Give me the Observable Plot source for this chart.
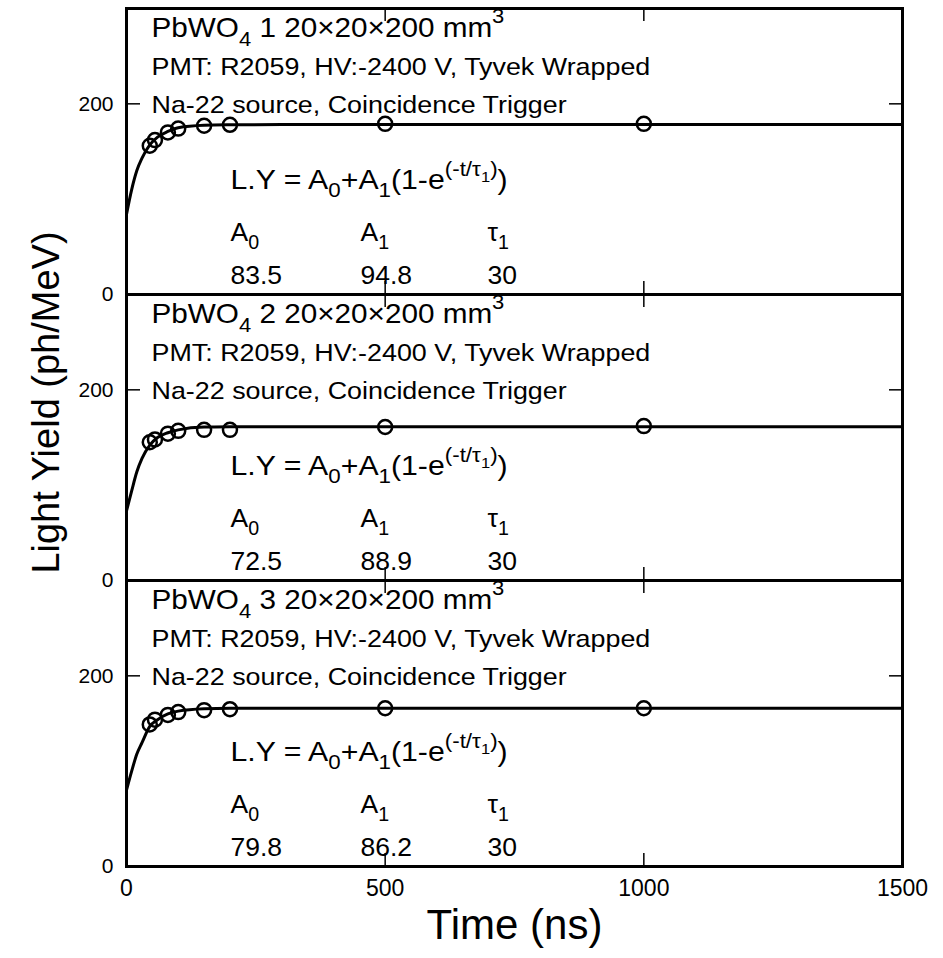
<!DOCTYPE html>
<html><head><meta charset="utf-8">
<script src="https://cdn.jsdelivr.net/npm/d3@7"></script>
<script src="https://cdn.jsdelivr.net/npm/@observablehq/plot@0.6"></script>
<style>body{margin:0;background:#fff}</style>
</head><body><div id="chart"></div>
<script>
// ---- data ----
const panels = ["1", "2", "3"];
const times = [45, 55, 80, 100, 150, 200, 500, 1000];
const yield1 = [156, 162, 170, 174, 177, 178, 179, 179];
const yield2 = [145, 148, 154, 157, 158, 158, 161, 162];
const yield3 = [149, 154, 159, 162, 164, 165, 166, 166];
const fitTimes = [0, 10, 20, 30, 45, 60, 80, 100, 150, 200, 300, 1500];
const fit1 = [84, 110, 130, 143, 157, 165, 171, 175, 177.5, 178, 178.3, 178.3];
const fit2 = [73, 94, 114, 128, 142, 150, 155, 158, 161, 161.2, 161.4, 161.4];
const fit3 = [80, 100, 118, 130, 147, 154, 160, 163, 165.5, 166, 166, 166];
const A0 = ["83.5", "72.5", "79.8"];
const A1 = ["94.8", "88.9", "86.2"];
const tau1 = ["30", "30", "30"];
const titles = panels.map(p => `PbWO_{4} ${p} 20×20×200 mm^{3}`);
const pmtLine = "PMT: R2059, HV:-2400 V, Tyvek Wrapped";
const sourceLine = "Na-22 source, Coincidence Trigger";
const formula = "L.Y = A_{0}+A_{1}(1-e^{(-t/τ_{1})})";
const paramNames = ["A_{0}", "A_{1}", "τ_{1}"];
const xTicks = [0, 500, 1000, 1500];
const yTicks = [0, 200];
const innerXTicks = [500, 1000];
const innerYTicks = [200];
const xLabel = "Time (ns)";
const yLabel = "Light Yield (ph/MeV)";

// ---- tables ----
const yields = [yield1, yield2, yield3];
const fits = [fit1, fit2, fit3];
const points = panels.flatMap((p, i) => times.map((t, j) => ({panel: p, t, ly: yields[i][j]})));
const fitRows = panels.flatMap((p, i) => fitTimes.map((t, j) => ({panel: p, t, ly: fits[i][j]})));
const rows = panels.map((p, i) => ({panel: p, title: titles[i], pmt: pmtLine, src: sourceLine,
  formula, a0: A0[i], a1: A1[i], tau: tau1[i]}));

const W = 943, H = 958, mL = 126, mR = 41, mT = 8, mB = 92;
const plotW = W - mL - mR, panelH = (H - mT - mB) / 3;
const FONT = "'Liberation Sans', Arial, Helvetica, sans-serif";

// stretch class names: s108 / s112 / s100
const txt = (field, dx, dy, size, cls) => Plot.text(rows, {fy: "panel", text: field, frameAnchor: "top-left",
  textAnchor: "start", lineAnchor: "bottom", dx, dy, fontSize: size, fill: "#000", className: cls});

const chart = Plot.plot({
  width: W, height: H, marginLeft: mL, marginRight: mR, marginTop: mT, marginBottom: mB,
  style: {fontFamily: FONT, color: "#000", background: "#fff", overflow: "visible"},
  x: {domain: [0, 1500]},
  y: {domain: [0, 300]},
  fy: {domain: panels, padding: 0, axis: null},
  marks: [
    Plot.line(fitRows, {x: "t", y: "ly", fy: "panel", curve: "monotone-x", stroke: "#000", strokeWidth: 3}),
    Plot.dot(points, {x: "t", y: "ly", fy: "panel", r: 7, stroke: "#000", strokeWidth: 2.5, fill: "none"}),
    Plot.tickY(innerYTicks, {y: d => d, insetRight: plotW - 14, strokeWidth: 1.5}),
    Plot.tickY(innerYTicks, {y: d => d, insetLeft: plotW - 13, strokeWidth: 1.5}),
    Plot.tickX(innerXTicks, {x: d => d, insetBottom: panelH - 13, strokeWidth: 1.5}),
    Plot.tickX(innerXTicks, {x: d => d, insetTop: panelH - 13, strokeWidth: 1.5}),
    Plot.frame({stroke: "#000", strokeWidth: 3}),
    Plot.axisY({ticks: yTicks, tickSize: 0, tickPadding: 13, fontSize: 21, label: null, tickFormat: d => String(d)}),
    Plot.axisX({ticks: xTicks, tickSize: 0, tickPadding: 13, fontSize: 23, label: null, tickFormat: d => String(d)}),
    txt("title", 25, 28, 27.5, "s108"),
    txt("pmt", 25, 66, 24, "s112"),
    txt("src", 25, 104, 24, "s112"),
    txt("formula", 104, 180, 27, "s112"),
    txt(() => paramNames[0], 104, 232, 26.5, "s100"),
    txt(() => paramNames[1], 234, 232, 26.5, "s100"),
    txt(() => paramNames[2], 361, 232, 26.5, "s100"),
    txt("a0", 104, 275, 26.5, "s100"),
    txt("a1", 234, 275, 26.5, "s100"),
    txt("tau", 361, 275, 26.5, "s100"),
    Plot.text([xLabel], {fy: ["3"], text: d => d, frameAnchor: "bottom", dy: 72, fontSize: 42, fill: "#000"}),
    Plot.text([yLabel], {fy: ["2"], text: d => d, frameAnchor: "left", textAnchor: "middle", dx: -80, dy: -35,
      rotate: -90, fontSize: 38, fill: "#000"})
  ]
});
document.getElementById("chart").appendChild(chart);

// ---- sub/superscript markup -> tspans ----
function parseRich(s, shift = 0, scale = 1, out = []) {
  let i = 0, buf = "";
  while (i < s.length) {
    if ((s[i] === "_" || s[i] === "^") && s[i + 1] === "{") {
      if (buf) { out.push({text: buf, shift, scale}); buf = ""; }
      let depth = 1, j = i + 2;
      while (j < s.length && depth) { if (s[j] === "{") depth++; else if (s[j] === "}") depth--; j++; }
      const inner = s.slice(i + 2, j - 1);
      const sup = s[i] === "^";
      parseRich(inner, shift + (sup ? -0.48 : 0.33) * scale, scale * 0.74, out);
      i = j;
    } else { buf += s[i]; i++; }
  }
  if (buf) out.push({text: buf, shift, scale});
  return out;
}
chart.querySelectorAll("text").forEach(el => {
  const s = el.textContent;
  if (!/[_^]\{/.test(s)) return;
  const base = parseFloat(getComputedStyle(el).fontSize) || 20;
  el.textContent = "";
  let prev = 0;
  for (const seg of parseRich(s)) {
    const ts = document.createElementNS("http://www.w3.org/2000/svg", "tspan");
    ts.setAttribute("font-size", (base * seg.scale).toFixed(2) + "px");
    const d = (seg.shift - prev) * base;
    if (d) ts.setAttribute("dy", d.toFixed(2));
    prev = seg.shift;
    ts.textContent = seg.text;
    el.appendChild(ts);
  }
});
// the reference lettering is somewhat wide: stretch annotation text horizontally
[["s108", 1.08], ["s112", 1.12]].forEach(([cls, k]) => {
  chart.querySelectorAll(`.${cls} text`).forEach(el => {
    el.setAttribute("transform", (el.getAttribute("transform") || "") + ` scale(${k},1)`);
  });
});
</script>
</body></html>
